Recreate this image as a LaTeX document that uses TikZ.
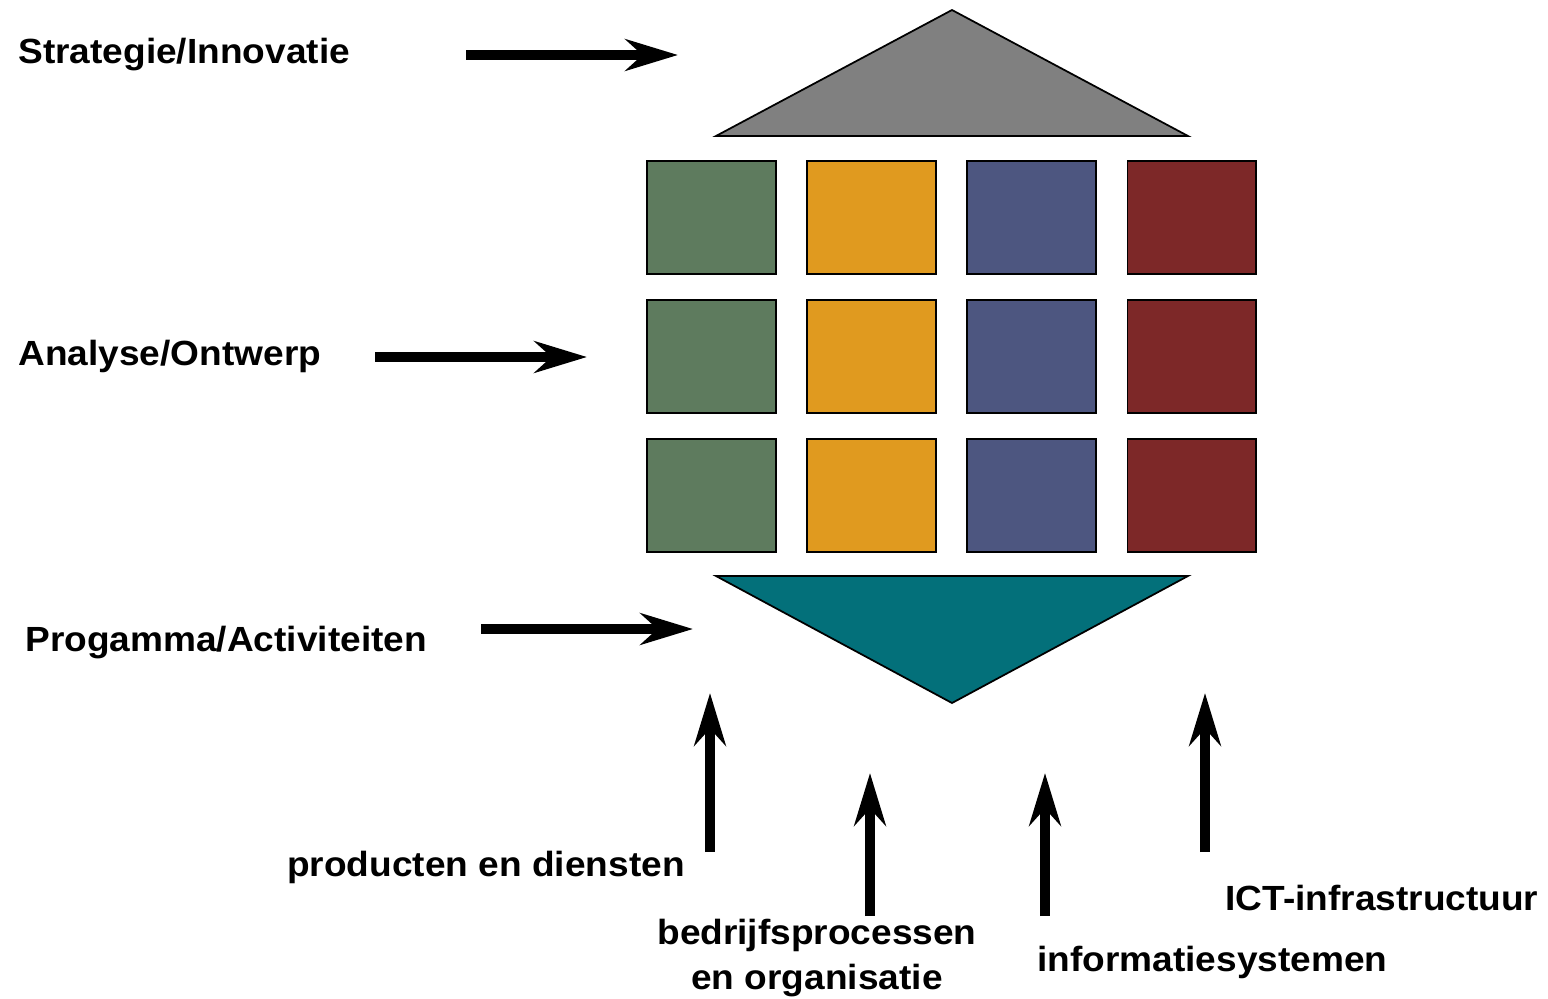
\documentclass[tikz,border=0pt]{standalone}
\usepackage{fontspec}
\setmainfont{Liberation Sans}
\usepackage{tikz}
\usetikzlibrary{arrows.meta, positioning}
\definecolor{roofgray}{RGB}{128,128,128}
\definecolor{blockgreen}{RGB}{94,123,94}
\definecolor{blockorange}{RGB}{224,154,31}
\definecolor{blockblue}{RGB}{77,86,128}
\definecolor{blockred}{RGB}{125,40,40}
\definecolor{baseteal}{RGB}{3,112,122}
\newcommand{\stretchx}[1]{\scalebox{1.06}[1]{#1}}
\tikzstyle{block} = [rectangle, minimum width=2.58cm, minimum height=2.26cm, draw=black, line width=1.1pt, inner sep=0pt]
\tikzstyle{greenbox} = [block, fill=blockgreen]
\tikzstyle{orangebox} = [block, fill=blockorange]
\tikzstyle{bluebox} = [block, fill=blockblue]
\tikzstyle{redbox} = [block, fill=blockred]
\tikzstyle{lbl} = [font=\bfseries\fontsize{19.9}{25.5}\selectfont, inner sep=0pt]
\tikzstyle{arrow} = [line width=0.21cm, -{Stealth[length=1.05cm, width=0.63cm, inset=0.34cm]}]

\begin{document}
\begin{tikzpicture}[x=0.02cm, y=-0.02cm, node distance=0.48cm and 0.585cm]
	\useasboundingbox (0,0) rectangle (1548,998);

	% roof and base
	\draw [fill=roofgray, line width=1pt] (716,136) -- (952,10) -- (1188,136) -- cycle;
	\draw [fill=baseteal, line width=1pt] (716,576) -- (952,703) -- (1188,576) -- cycle;

	% blocks
	\node (g1) [greenbox] at (711.5,217.5) {};
	\node (o1) [orangebox, right=of g1] {};
	\node (b1) [bluebox, right=of o1] {};
	\node (r1) [redbox, right=of b1] {};
	\node (g2) [greenbox, below=of g1] {};
	\node (o2) [orangebox, right=of g2] {};
	\node (b2) [bluebox, right=of o2] {};
	\node (r2) [redbox, right=of b2] {};
	\node (g3) [greenbox, below=of g2] {};
	\node (o3) [orangebox, right=of g3] {};
	\node (b3) [bluebox, right=of o3] {};
	\node (r3) [redbox, right=of b3] {};

	% labels
	\node (strat) [lbl, anchor=base west] at (18,63) {\stretchx{Strategie/Innovatie}};
	\node (anal) [lbl, anchor=base west] at (18,365) {\stretchx{Analyse/Ontwerp}};
	\node (prog) [lbl, anchor=base west] at (25,651) {\stretchx{Progamma/Activiteiten}};
	\node (prod) [lbl, anchor=base east] at (685,876) {\stretchx{producten en diensten}};
	\node (bedr) [lbl, anchor=north, align=center] at (817,919) {\stretchx{bedrijfsprocessen}\\\stretchx{en organisatie}};
	\node (info) [lbl, anchor=base west] at (1037,971) {\stretchx{informatiesystemen}};
	\node (ict) [lbl, anchor=base west] at (1225,910) {\stretchx{ICT-infrastructuur}};

	% arrow ends
	\coordinate (strat-s) at (466,55);
	\coordinate (strat-e) at (678,55);
	\coordinate (anal-s) at (375,357);
	\coordinate (anal-e) at (587,357);
	\coordinate (prog-s) at (481,629);
	\coordinate (prog-e) at (693,629);
	\coordinate (prod-s) at (710,852);
	\coordinate (prod-e) at (710,693);
	\coordinate (bedr-s) at (870,916);
	\coordinate (bedr-e) at (870,773);
	\coordinate (info-s) at (1045,916);
	\coordinate (info-e) at (1045,773);
	\coordinate (ict-s) at (1205,852);
	\coordinate (ict-e) at (1205,693);

	\draw [arrow] (strat-s) -- (strat-e);
	\draw [arrow] (anal-s) -- (anal-e);
	\draw [arrow] (prog-s) -- (prog-e);
	\draw [arrow] (prod-s) -- (prod-e);
	\draw [arrow] (bedr-s) -- (bedr-e);
	\draw [arrow] (info-s) -- (info-e);
	\draw [arrow] (ict-s) -- (ict-e);
\end{tikzpicture}
\end{document}
